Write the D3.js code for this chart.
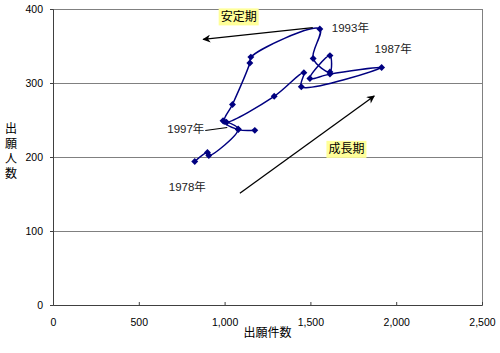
<!DOCTYPE html>
<html lang="ja">
<head>
  <meta charset="UTF-8">
  <title>出願件数 vs 出願人数</title>
  <script src="https://d3js.org/d3.v7.min.js"></script>
  <style>
    body { margin: 0; background: #fff; }
    svg { display: block; font-family: "Liberation Sans", "Noto Sans CJK JP", sans-serif; }
    .tick text { font-size: 10.5px; fill: #000; }
    .axis-title { font-size: 12px; fill: #000; }
    .year-label { font-size: 11.5px; fill: #222; }
    .phase-label { font-size: 12px; fill: #000; }
  </style>
</head>
<body>
<div id="chart"></div>
<script>
  // データ (1978年〜1999年)
  const years = [1978, 1979, 1980, 1981, 1982, 1983, 1984, 1985, 1986, 1987,
                 1988, 1989, 1990, 1991, 1992, 1993, 1994, 1995, 1996, 1997, 1998, 1999];
  const applications = [826, 900, 908, 1079, 991, 1011, 1289, 1462, 1447, 1915,
                        1614, 1497, 1614, 1614, 1516, 1555, 1153, 1147, 1046, 998, 1080, 1176];
  const applicants = [194, 206, 202, 238, 249, 247, 282, 314, 295, 321,
                      312, 306, 337, 315, 333, 373, 335, 327, 271, 248, 237, 236];

  const xTicks = [0, 500, 1000, 1500, 2000, 2500];
  const yTicks = [0, 100, 200, 300, 400];
  const labeledYears = [1978, 1987, 1993, 1997];

  const W = 500, H = 353;
  const margin = {top: 9, right: 18, bottom: 48, left: 53};
  const width = W - margin.left - margin.right,
        height = H - margin.top - margin.bottom;

  const data = years.map((y, i) => ({year: y, x: applications[i], y: applicants[i]}));

  const svg = d3.select("#chart").append("svg")
    .attr("width", W).attr("height", H);

  const defs = svg.append("defs");
  defs.append("marker")
    .attr("id", "arrow")
    .attr("viewBox", "0 0 10 10")
    .attr("refX", 9).attr("refY", 5)
    .attr("markerWidth", 11).attr("markerHeight", 8)
    .attr("markerUnits", "userSpaceOnUse")
    .attr("orient", "auto")
    .append("path")
    .attr("d", "M0,0L10,5L0,10L3,5Z")
    .attr("fill", "#000");

  const g = svg.append("g").attr("transform", `translate(${margin.left},${margin.top})`);

  const x = d3.scaleLinear().domain([0, 2500]).range([0, width]);
  const y = d3.scaleLinear().domain([0, 400]).range([height, 0]);

  // グリッド線
  g.append("g")
    .selectAll("line")
    .data(yTicks.filter(d => d > 0))
    .join("line")
    .attr("x1", 0).attr("x2", width)
    .attr("y1", d => y(d)).attr("y2", d => y(d))
    .attr("stroke", "#808080").attr("stroke-width", 1)
    .attr("shape-rendering", "crispEdges");

  // 右の枠線
  g.append("line")
    .attr("x1", width).attr("x2", width)
    .attr("y1", 0).attr("y2", height)
    .attr("stroke", "#808080")
    .attr("shape-rendering", "crispEdges");

  // X軸
  const xAxis = g.append("g")
    .attr("transform", `translate(0,${height})`)
    .call(d3.axisBottom(x).tickValues(xTicks).tickSize(-3).tickPadding(14)
      .tickFormat(d3.format(",")));
  xAxis.select(".domain").attr("stroke", "#404040");
  xAxis.selectAll(".tick line").attr("stroke", "#404040");

  // Y軸
  const yAxis = g.append("g")
    .call(d3.axisLeft(y).tickValues(yTicks).tickSize(3).tickPadding(7));
  yAxis.select(".domain").attr("stroke", "#404040");
  yAxis.selectAll(".tick line").attr("stroke", "#404040");

  // 軸タイトル
  g.append("text")
    .attr("class", "axis-title")
    .attr("x", x(1250))
    .attr("y", height + 32)
    .attr("text-anchor", "middle")
    .text("出願件数");

  const yTitle = svg.append("text")
    .attr("class", "axis-title")
    .attr("text-anchor", "middle");
  ["出", "願", "人", "数"].forEach((c, i) => {
    yTitle.append("tspan")
      .attr("x", 11)
      .attr("y", 133 + i * 15)
      .text(c);
  });

  // 折れ線 (スムージング)
  const line = d3.line()
    .x(d => x(d.x))
    .y(d => y(d.y))
    .curve(d3.curveCatmullRom.alpha(0.5));

  g.append("path")
    .datum(data)
    .attr("fill", "none")
    .attr("stroke", "#000080")
    .attr("stroke-width", 1.5)
    .attr("d", line);

  // マーカー (ひし形)
  g.selectAll(".pt")
    .data(data)
    .join("path")
    .attr("class", "pt")
    .attr("d", d3.symbol().type(d3.symbolSquare).size(24))
    .attr("transform", d => `translate(${x(d.x)},${y(d.y)}) rotate(45)`)
    .attr("fill", "#000080");

  // 年ラベル
  const labelOffset = {1978: [-26, 30], 1987: [-7, -14], 1993: [12, 3], 1997: [-57, 12]};
  g.selectAll(".year-label")
    .data(data.filter(d => labeledYears.includes(d.year)))
    .join("text")
    .attr("class", "year-label")
    .attr("x", d => x(d.x) + labelOffset[d.year][0])
    .attr("y", d => y(d.y) + labelOffset[d.year][1])
    .text(d => d.year + "年");

  // 1997年の引出線
  const d97 = data.find(d => d.year === 1997);
  g.append("line")
    .attr("x1", x(d97.x) - 19).attr("y1", y(d97.y) + 9)
    .attr("x2", x(d97.x) + 3).attr("y2", y(d97.y) + 6)
    .attr("stroke", "#000").attr("stroke-width", 1.2);

  // 矢印
  const arrows = [
    {from: [1514, 374.7], to: [875, 359]},
    {from: [1089, 151], to: [1872, 282.4]}
  ];
  g.selectAll(".arrow")
    .data(arrows)
    .join("line")
    .attr("class", "arrow")
    .attr("x1", d => x(d.from[0])).attr("y1", d => y(d.from[1]))
    .attr("x2", d => x(d.to[0])).attr("y2", d => y(d.to[1]))
    .attr("stroke", "#000").attr("stroke-width", 1.3)
    .attr("marker-end", "url(#arrow)");

  // 期間ラベル
  const phases = [
    {text: "安定期", at: [1082, 390]},
    {text: "成長期", at: [1710, 211]}
  ];
  const ph = g.selectAll(".phase")
    .data(phases)
    .join("g")
    .attr("class", "phase")
    .attr("transform", d => `translate(${x(d.at[0])},${y(d.at[1])})`);
  ph.append("rect")
    .attr("x", -20).attr("y", -8)
    .attr("width", 40).attr("height", 17)
    .attr("fill", "#FFFF99");
  ph.append("text")
    .attr("class", "phase-label")
    .attr("text-anchor", "middle")
    .attr("y", 4.5)
    .text(d => d.text);
</script>
</body>
</html>
